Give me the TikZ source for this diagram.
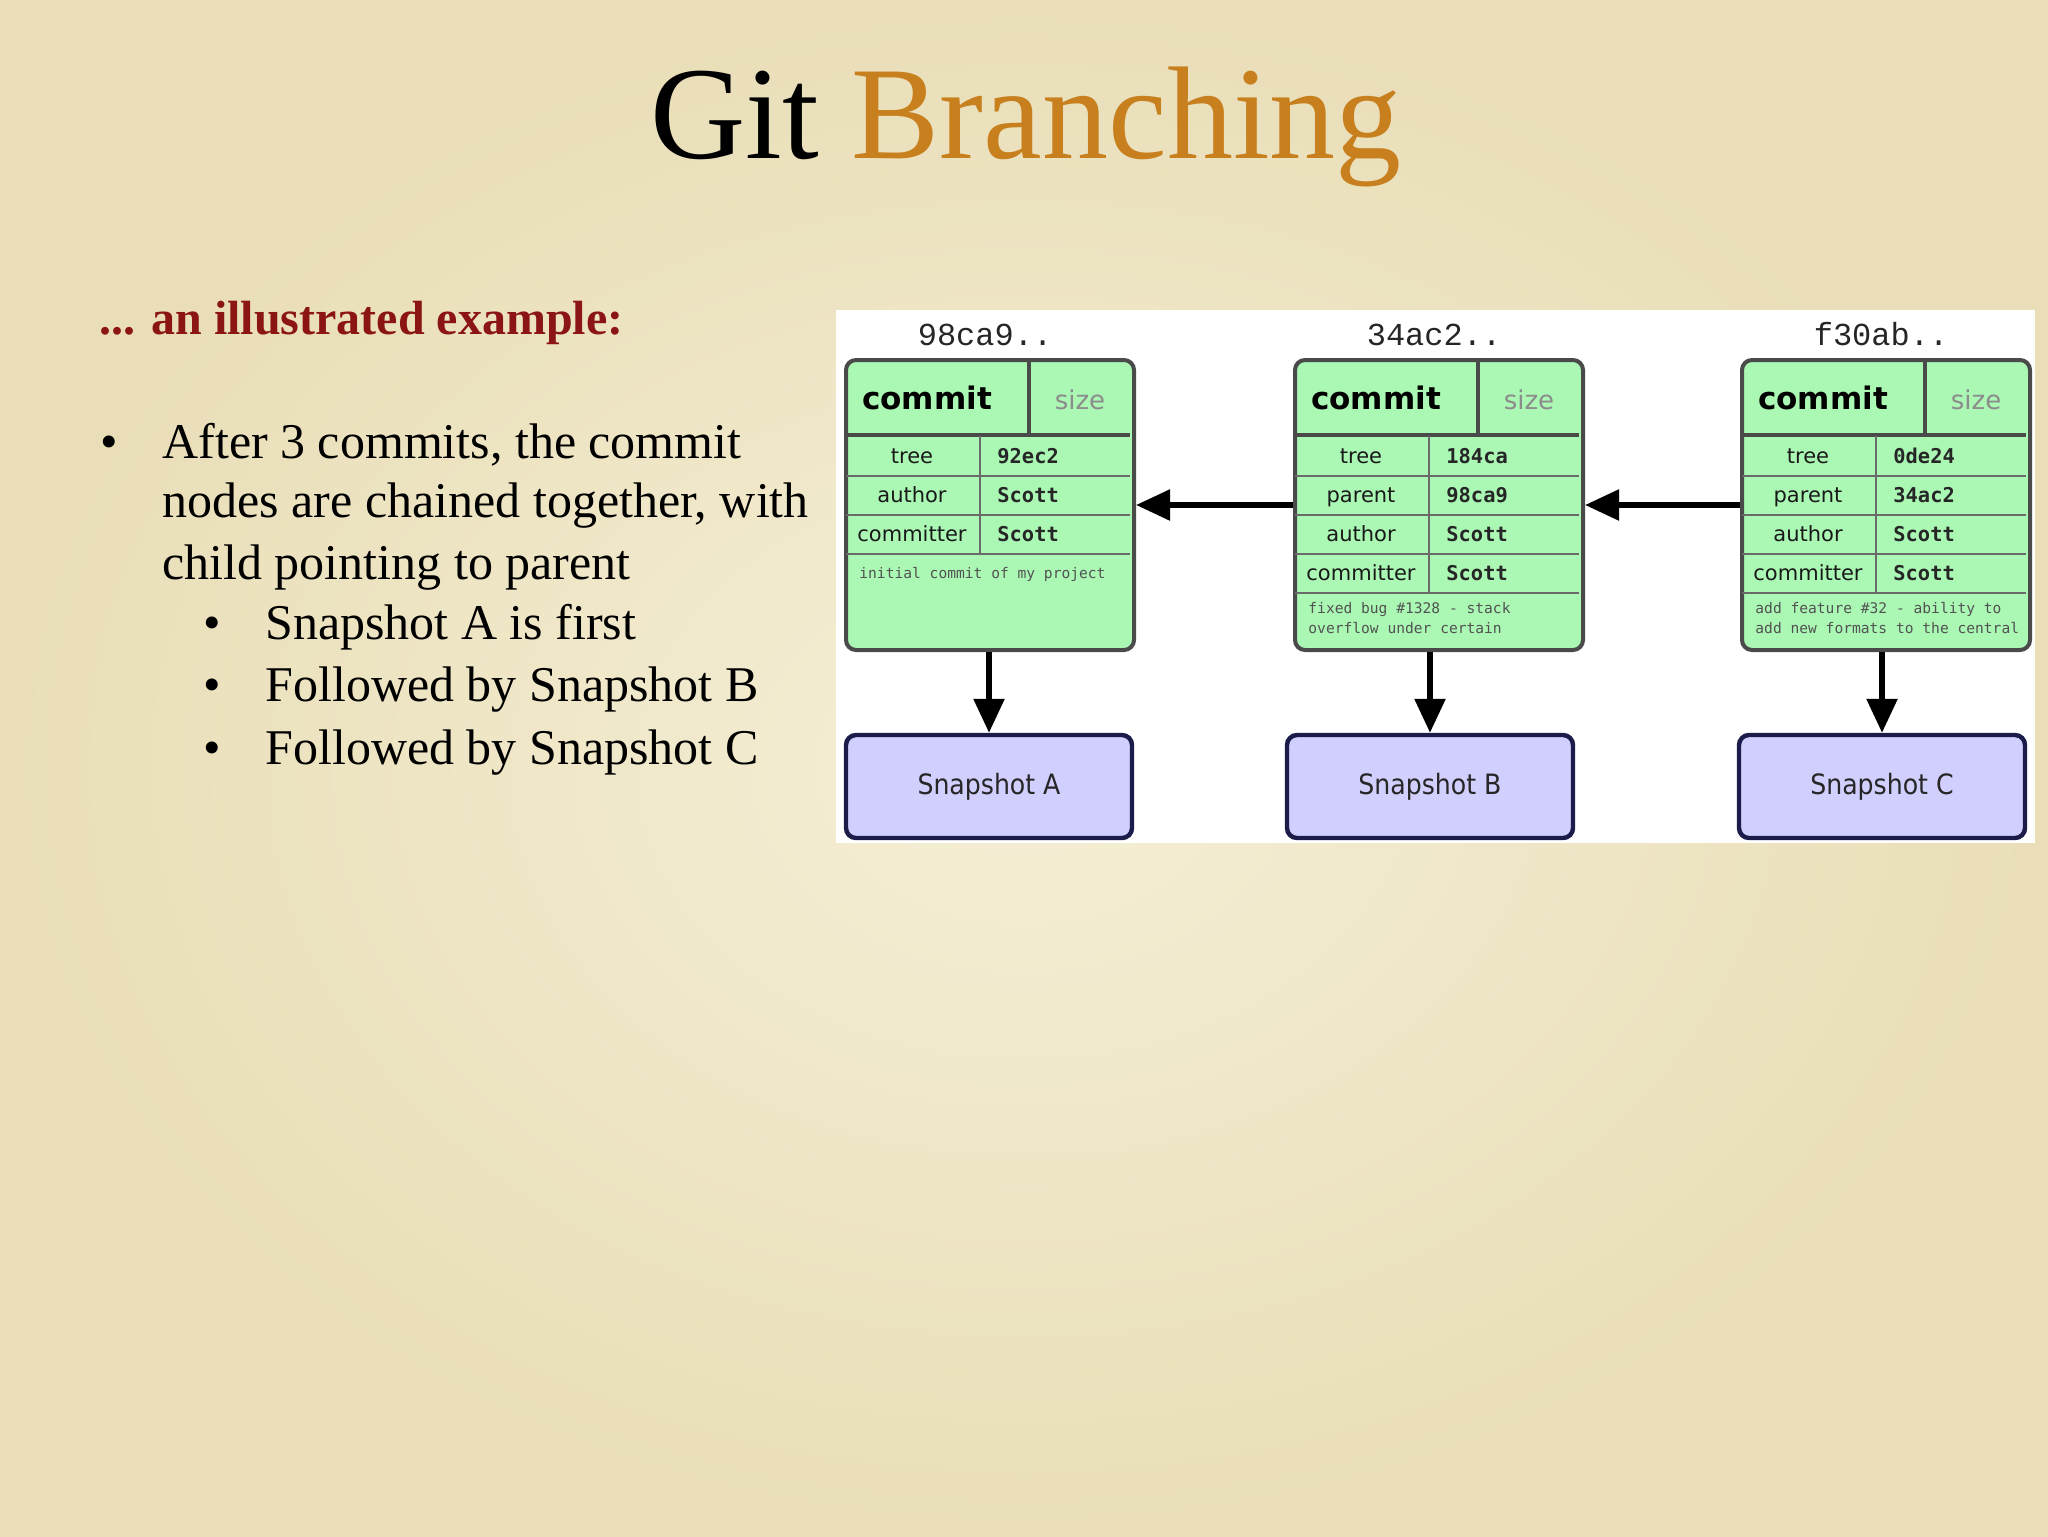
\documentclass[tikz,border=0pt]{standalone}
\usepackage{fontspec}
\setmainfont{Liberation Serif}
\newfontfamily\gsans{DejaVu Sans}
\newfontfamily\gcond{DejaVu Sans Condensed}
\newfontfamily\gmono{DejaVu Sans Mono}
\newfontfamily\gcour{Liberation Mono}
\usetikzlibrary{arrows.meta}
\definecolor{bgin}{HTML}{F5EFD6}
\definecolor{bgout}{HTML}{E9DEB8}
\definecolor{titleor}{HTML}{C8801E}
\definecolor{subred}{HTML}{8B1515}
\definecolor{cgreen}{HTML}{AAF8B4}
\definecolor{cborder}{HTML}{4A4A4A}
\definecolor{crow}{HTML}{6A6A6A}
\definecolor{sfill}{HTML}{D0CFFD}
\definecolor{sborder}{HTML}{1C1C4A}
\tikzset{
  commitbox/.style={rectangle, draw=cborder, line width=2pt, fill=cgreen,
    rounded corners=5pt, minimum width=144pt, minimum height=145pt, inner sep=0pt},
  snapbox/.style={rectangle, draw=sborder, line width=2.2pt, fill=sfill,
    rounded corners=5pt, minimum width=143pt, minimum height=51.5pt, inner sep=0pt,
    font=\gcond\fontsize{14}{16}\selectfont, text=black!85},
  hdrline/.style={draw=cborder, line width=2pt},
  rowline/.style={draw=crow, line width=1.2pt},
  hashlbl/.style={anchor=base, inner sep=0pt, font=\gcour\fontsize{16}{18}\selectfont, text=black!85},
  commitlbl/.style={anchor=mid, inner sep=0pt, font=\gsans\bfseries\fontsize{15.5}{18}\selectfont, text=black},
  sizelbl/.style={anchor=mid, inner sep=0pt, font=\gsans\fontsize{13}{15}\selectfont, text=black!45},
  rowlbl/.style={anchor=mid, inner sep=0pt, font=\gsans\fontsize{10.5}{12}\selectfont, text=black!90},
  rowval/.style={anchor=mid west, inner sep=0pt, font=\gmono\bfseries\fontsize{10.2}{12}\selectfont, text=black!85},
  msglbl/.style={anchor=mid west, inner sep=0pt, font=\gmono\fontsize{7.3}{9}\selectfont, text=black!68},
  arr/.style={draw=black, line width=2.8pt, -{Triangle[length=17pt,width=15pt]}},
  bodytext/.style={anchor=base west, inner sep=0pt, font=\fontsize{25}{30}\selectfont, text=black},
}
\newcommand\gitframe[3]{%
  \node[commitbox, anchor=north west] (#1) at (#2,358) {};
  \draw[hdrline] (#2+2,435) -- (#2+286,435);
  \draw[hdrline] (#2+185,359) -- (#2+185,435);
  \foreach \i in {1,...,#3} {\draw[rowline] (#2+2,437+39*\i) -- (#2+286,437+39*\i);}
  \draw[rowline] (#2+136,436) -- (#2+136,437+39*#3);
  \node[commitlbl] (#1c) at (#2+83,405) {commit};
  \node[sizelbl] (#1s) at (#2+236,405) {size};
}
\newcommand\gitrow[4]{%
  \node[rowlbl] at (#1+68,437+39*#2-17) {#3};
  \node[rowval] at (#1+153,437+39*#2-17) {#4};
}
\begin{document}
\begin{tikzpicture}[x=0.5pt,y=-0.5pt]
\useasboundingbox (0,0) rectangle (2048,1536);
% background
\shade[inner color=bgin, outer color=bgout] (0,0) rectangle (2048,1536);
% title
\node[anchor=base, inner sep=0pt, font=\fontsize{66}{70}\selectfont] (title) at (1026,158)
  {\textcolor{black}{Git} \textcolor{titleor}{Branching}};
% subtitle
\node[anchor=base west, inner sep=0pt, font=\bfseries\fontsize{24}{28}\selectfont, text=subred] (sub) at (99,334)
  {... an illustrated example:};
% bullets
\node[bodytext] (b1) at (100,458) {•};
\node[bodytext] (l1) at (162,458) {After 3 commits, the commit};
\node[bodytext] (l2) at (162,517) {nodes are chained together, with};
\node[bodytext] (l3) at (162,579) {child pointing to parent};
\node[bodytext] (b2) at (203,639) {•};
\node[bodytext] (l4) at (265,639) {Snapshot A is first};
\node[bodytext] (b3) at (203,701) {•};
\node[bodytext] (l5) at (265,701) {Followed by Snapshot B};
\node[bodytext] (b4) at (203,764) {•};
\node[bodytext] (l6) at (265,764) {Followed by Snapshot C};
% white panel
\fill[white] (836,310) rectangle (2035,843);
% hashes
\node[hashlbl] (hA) at (844+141,345) {98ca9..};
\node[hashlbl] (hB) at (1293+141,345) {34ac2..};
\node[hashlbl] (hC) at (1740+141,345) {f30ab..};
% commit A
\gitframe{cA}{844}{3}
\gitrow{844}{1}{tree}{92ec2}
\gitrow{844}{2}{author}{Scott}
\gitrow{844}{3}{committer}{Scott}
\node[msglbl] (mA) at (844+15,574) {initial commit of my project};
% commit B
\gitframe{cB}{1293}{4}
\gitrow{1293}{1}{tree}{184ca}
\gitrow{1293}{2}{parent}{98ca9}
\gitrow{1293}{3}{author}{Scott}
\gitrow{1293}{4}{committer}{Scott}
\node[msglbl] (mB1) at (1293+15,609) {fixed bug \#1328 - stack};
\node[msglbl] (mB2) at (1293+15,629) {overflow under certain};
% commit C
\gitframe{cC}{1740}{4}
\gitrow{1740}{1}{tree}{0de24}
\gitrow{1740}{2}{parent}{34ac2}
\gitrow{1740}{3}{author}{Scott}
\gitrow{1740}{4}{committer}{Scott}
\node[msglbl] (mC1) at (1740+15,609) {add feature \#32 - ability to};
\node[msglbl] (mC2) at (1740+15,629) {add new formats to the central};
% snapshots
\node[snapbox] (sA) at (989,786.5) {Snapshot A};
\node[snapbox] (sB) at (1430,786.5) {Snapshot B};
\node[snapbox] (sC) at (1882,786.5) {Snapshot C};
% connectors
\draw[arr] (cB.west) -- (cA.east);
\draw[arr] (cC.west) -- (cB.east);
\draw[arr] (sA.north |- cA.south) -- (sA.north);
\draw[arr] (sB.north |- cB.south) -- (sB.north);
\draw[arr] (sC.north |- cC.south) -- (sC.north);
\end{tikzpicture}
\end{document}
